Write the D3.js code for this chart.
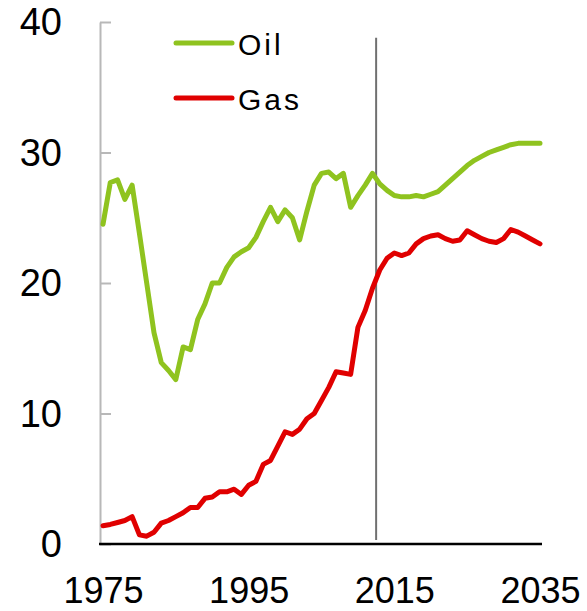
<!DOCTYPE html>
<html>
<head>
<meta charset="utf-8">
<script src="https://cdn.jsdelivr.net/npm/d3@7"></script>
<style>
  body { margin: 0; background: #fff; }
  svg text { font-family: 'Liberation Sans', Arial, sans-serif; fill: #000; }
</style>
</head>
<body>
<div id="chart"></div>
<script>
const w = 587
const h = 611
const oilColor = '#8fc31f'
const gasColor = '#e00000'

const years = d3.range(1975, 2036)
const oil = [
    24.5, 27.7, 27.9, 26.4, 27.5, 23.8, 20.0, 16.2, 13.9, 13.3,
    12.6, 15.1, 14.9, 17.2, 18.4, 20.0, 20.0, 21.2, 22.0, 22.4,
    22.7, 23.5, 24.7, 25.8, 24.7, 25.6, 25.0, 23.3, 25.5, 27.5,
    28.4, 28.5, 28.0, 28.4, 25.8, 26.7, 27.5, 28.4, 27.6, 27.1,
    26.7, 26.6, 26.6, 26.7, 26.6, 26.8, 27.0, 27.5, 28.0, 28.5,
    29.0, 29.4, 29.7, 30.0, 30.2, 30.4, 30.6, 30.7, 30.7, 30.7,
    30.7
]
const gas = [
    1.4, 1.5, 1.65, 1.8, 2.1, 0.7, 0.6, 0.9, 1.6, 1.8,
    2.1, 2.4, 2.8, 2.8, 3.5, 3.6, 4.0, 4.0, 4.2, 3.8,
    4.5, 4.8, 6.1, 6.4, 7.5, 8.6, 8.4, 8.8, 9.6, 10.0,
    11.0, 12.0, 13.2, 13.1, 13.0, 16.6, 17.9, 19.6, 21.0, 21.9,
    22.3, 22.1, 22.3, 23.0, 23.4, 23.6, 23.7, 23.4, 23.2, 23.3,
    24.0, 23.7, 23.4, 23.2, 23.1, 23.4, 24.1, 23.9, 23.6, 23.3,
    23.0
]
const series = [
    { name: 'Oil', values: oil, color: oilColor },
    { name: 'Gas', values: gas, color: gasColor }
]
const xTicks = [1975, 1995, 2015, 2035]
const yTicks = [0, 10, 20, 30, 40]
const dividerYear = 2012.5

const svg = d3.select('#chart')
    .append('svg')
    .attr('width', w)
    .attr('height', h)

const xScale = d3.scaleLinear()
    .domain([1975, 2035])
    .range([103, 540])

const yScale = d3.scaleLinear()
    .domain([0, 40])
    .range([544, 22])

// y axis: grey line, ticks pointing into the plot, labels far left
const yAxis = d3.axisLeft(yScale)
    .tickValues(yTicks)
    .tickSizeInner(-11)
    .tickSizeOuter(0)
    .tickPadding(38)

svg.append('g')
    .attr('transform', 'translate(100, 0)')
    .call(yAxis)
    .call(g => g.select('.domain').attr('stroke', '#b8b8b8').attr('stroke-width', 2))
    .call(g => g.selectAll('.tick line').attr('stroke', '#b8b8b8').attr('stroke-width', 2))
    .call(g => g.selectAll('.tick text')
        .attr('font-size', 38)
        .attr('fill', '#000')
        .attr('dy', '0.34em'))

// x axis labels only, baseline drawn separately
const xAxis = d3.axisBottom(xScale)
    .tickValues(xTicks)
    .tickFormat(d3.format('d'))
    .tickSize(0)
    .tickPadding(33)

svg.append('g')
    .attr('transform', 'translate(0, 544)')
    .call(xAxis)
    .call(g => g.select('.domain').remove())
    .call(g => g.selectAll('.tick text')
        .attr('font-size', 36)
        .attr('fill', '#000')
        .attr('dy', '0.72em'))

// divider between history and projection
svg.append('line')
    .attr('x1', xScale(dividerYear))
    .attr('x2', xScale(dividerYear))
    .attr('y1', yScale(38.8))
    .attr('y2', yScale(0.3))
    .attr('stroke', '#707070')
    .attr('stroke-width', 2)

const line = d3.line()
    .x((d, i) => xScale(years[i]))
    .y(d => yScale(d))

svg.selectAll('path.series')
    .data(series)
    .enter()
    .append('path')
    .attr('class', 'series')
    .attr('d', d => line(d.values))
    .attr('fill', 'none')
    .attr('stroke', d => d.color)
    .attr('stroke-width', 5)
    .attr('stroke-linejoin', 'round')
    .attr('stroke-linecap', 'round')

// x baseline
svg.append('line')
    .attr('x1', 99)
    .attr('x2', 542)
    .attr('y1', 544)
    .attr('y2', 544)
    .attr('stroke', '#000')
    .attr('stroke-width', 2.5)

// legend
const legend = svg.selectAll('g.legend')
    .data(series)
    .enter()
    .append('g')
    .attr('class', 'legend')
    .attr('transform', (d, i) => 'translate(176, ' + (43 + i * 55) + ')')

legend.append('line')
    .attr('x1', 0)
    .attr('x2', 56)
    .attr('stroke', d => d.color)
    .attr('stroke-width', 5)
    .attr('stroke-linecap', 'round')

legend.append('text')
    .attr('x', 62)
    .attr('y', 12)
    .attr('font-size', 30)
    .attr('letter-spacing', 3)
    .text(d => d.name)
</script>
</body>
</html>
